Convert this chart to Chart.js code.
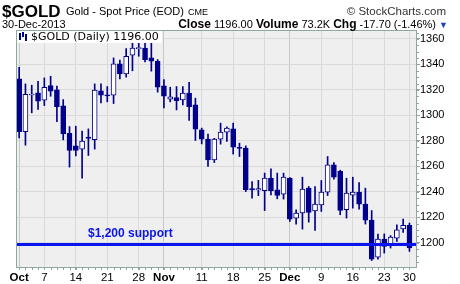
<!DOCTYPE html>
<html>
<head>
<meta charset="utf-8">
<script src="https://cdn.jsdelivr.net/npm/chart.js@4.4.1/dist/chart.umd.min.js"></script>
<style>
body { margin: 0; background: #fff; }
#wrap { position: relative; width: 460px; height: 284px; font-family: Arial, "Liberation Sans", sans-serif; }
#c { position: absolute; left: 0; top: 0; }
.t { position: absolute; white-space: nowrap; color: #000; line-height: 1; }
#leg { position: absolute; left: 17px; top: 31px; background: #fff; font-family: "DejaVu Sans", sans-serif; font-size: 11px; line-height: 12px; padding: 0 3px 0 2px; white-space: nowrap; }
#leg i { display: inline-block; width: 9px; height: 9px; margin-right: 3px; vertical-align: -1px; position: relative; }
#leg i b { position: absolute; width: 2px; background: #00008b; }
</style>
</head>
<body>
<div id="wrap">
<canvas id="c" width="460" height="284"></canvas>
<div class="t" style="left:2px;top:3px;font-size:17px;font-weight:bold">$GOLD</div>
<div class="t" style="left:66px;top:6px;font-size:11px">Gold - Spot Price (EOD)</div>
<div class="t" style="left:188px;top:8px;font-size:9px">CME</div>
<div class="t" style="right:14px;top:6px;font-size:11.5px;color:#333">&copy; StockCharts.com</div>
<div class="t" style="left:2px;top:19px;font-size:11px">30-Dec-2013</div>
<div class="t" style="right:12px;top:18px;font-size:11px"><b style="font-size:12px">Close</b> 1196.00 <b style="font-size:12px">Volume</b> 73.2K <b style="font-size:12px">Chg</b> -17.70 (-1.46%) <span style="color:#1a3cd0;font-size:9px">&#9660;</span></div>
<div id="leg"><i><b style="left:0;top:1px;height:7px"></b><b style="left:3px;top:0;height:5px"></b><b style="left:6px;top:2px;height:7px"></b></i>$GOLD (Daily) 1196.00</div>
</div>
<script>
// OHLC, Oct 1 - Dec 30 2013 (trading days)
const opens = [1328.6, 1287.3, 1316.0, 1317.6, 1311.9, 1323.4, 1320.0, 1307.5, 1286.0, 1276.1,
  1273.5, 1283.0, 1281.0, 1319.2, 1316.0, 1315.8, 1340.4, 1332.5, 1347.2, 1352.4,
  1352.9, 1345.1, 1342.5, 1323.1, 1312.7, 1314.0, 1312.2, 1317.4, 1308.2, 1288.6,
  1281.3, 1265.1, 1281.3, 1286.8, 1289.4, 1275.0, 1274.3, 1242.5, 1241.5, 1241.0,
  1250.7, 1241.6, 1238.2, 1250.7, 1219.4, 1223.5, 1242.9, 1225.1, 1229.8, 1239.8,
  1261.2, 1256.0, 1225.9, 1237.4, 1239.8, 1230.4, 1217.8, 1188.8, 1202.9, 1198.4,
  1203.7, 1210.8, 1213.7];
const highs = [1337.8, 1324.7, 1323.7, 1326.8, 1329.4, 1330.7, 1323.0, 1312.4, 1291.2, 1291.5,
  1287.6, 1289.4, 1324.7, 1324.7, 1322.6, 1345.1, 1343.3, 1352.4, 1356.9, 1357.6,
  1358.2, 1357.6, 1343.8, 1328.1, 1322.1, 1322.6, 1322.6, 1326.0, 1313.5, 1290.0,
  1285.3, 1282.0, 1293.9, 1291.0, 1293.9, 1278.2, 1276.1, 1248.0, 1249.0, 1254.7,
  1258.0, 1254.7, 1254.7, 1251.2, 1225.9, 1251.5, 1244.2, 1244.2, 1248.9, 1267.7,
  1263.0, 1257.0, 1250.7, 1251.5, 1247.3, 1242.9, 1225.3, 1206.8, 1207.0, 1205.7,
  1214.1, 1218.6, 1215.5];
const lows = [1282.4, 1276.6, 1302.0, 1304.6, 1307.7, 1315.0, 1295.0, 1280.8, 1259.4, 1268.2,
  1250.7, 1268.5, 1273.5, 1309.8, 1310.6, 1309.3, 1328.6, 1330.0, 1335.0, 1346.4,
  1342.0, 1334.7, 1318.2, 1305.9, 1310.6, 1304.3, 1308.2, 1296.0, 1280.3, 1277.6,
  1259.9, 1263.0, 1277.4, 1279.5, 1269.6, 1267.7, 1240.2, 1235.0, 1237.0, 1225.3,
  1237.6, 1234.5, 1234.3, 1216.7, 1214.7, 1210.7, 1216.2, 1209.7, 1224.6, 1237.1,
  1250.0, 1222.0, 1219.4, 1227.2, 1226.4, 1214.7, 1186.1, 1187.2, 1191.9, 1195.9,
  1201.0, 1208.1, 1193.2];
const closes = [1287.3, 1316.6, 1316.8, 1311.1, 1322.1, 1319.0, 1306.9, 1285.5, 1272.4, 1272.4,
  1279.8, 1282.0, 1319.8, 1315.8, 1315.3, 1340.4, 1332.5, 1346.4, 1352.9, 1353.2,
  1343.8, 1342.5, 1322.1, 1315.1, 1314.5, 1311.6, 1317.4, 1306.9, 1289.2, 1281.3,
  1265.1, 1281.3, 1286.8, 1290.0, 1275.0, 1274.0, 1241.6, 1241.5, 1242.5, 1250.7,
  1241.0, 1237.1, 1251.5, 1218.6, 1223.3, 1242.1, 1223.8, 1230.4, 1239.8, 1261.2,
  1251.5, 1225.4, 1239.0, 1239.8, 1230.4, 1217.8, 1187.2, 1202.9, 1197.1, 1204.5,
  1210.2, 1213.7, 1196.0];

// x axis: trading-day index of each labelled tick
const tickIdx = [0, 4, 9, 14, 19, 23, 29, 34, 39, 43, 48, 53, 58, 62];
const tickText = ['Oct', '7', '14', '21', '28', 'Nov', '11', '18', '25', 'Dec', '9', '16', '23', '30'];
const yTicks = [1200, 1220, 1240, 1260, 1280, 1300, 1320, 1340, 1360];
const supportLevel = 1199;
const supportText = '$1,200 support';

const navy = '#00008b';
const font = 'Arial, "Liberation Sans", sans-serif';
const isMonth = i => isNaN(Number(tickText[i]));

const wickData = highs.map((h, i) => ({ x: i, y: [lows[i], h] }));
const bodyData = opens.map((o, i) => ({ x: i, y: [o, closes[i]] }));
const bodyFill = opens.map((o, i) => closes[i] >= o ? '#ffffff' : navy);

// plot background, frame, minor ticks, support line
const extras = {
    id: 'extras',
    beforeDraw(chart) {
        const { ctx, chartArea: a } = chart;
        ctx.save();
        ctx.fillStyle = '#efefef';
        ctx.fillRect(a.left, a.top, a.right - a.left, a.bottom - a.top);
        ctx.restore();
    },
    afterDatasetsDraw(chart) {
        const { ctx, chartArea: a, scales } = chart;
        const y = Math.round(scales.y.getPixelForValue(supportLevel));
        ctx.save();
        ctx.fillStyle = '#0a14f0';
        ctx.fillRect(a.left, y - 1, a.right - a.left, 3);
        ctx.font = 'bold 12px ' + font;
        ctx.textBaseline = 'alphabetic';
        ctx.fillText(supportText, a.left + 72, y - 7);
        ctx.restore();
    },
    afterDraw(chart) {
        const { ctx, chartArea: a, scales } = chart;
        ctx.save();
        ctx.strokeStyle = '#8fa89e';
        ctx.lineWidth = 1;
        ctx.strokeRect(a.left + 0.5, a.top + 0.5, a.right - a.left - 1, a.bottom - a.top);
        ctx.fillStyle = '#8fa89e';
        for (let i = 0; i < opens.length; i++) {
            const x = Math.round(scales.x.getPixelForValue(i));
            ctx.fillRect(x, a.bottom + 1, 1, 2);
        }
        for (let v = 1185; v <= 1365; v += 5) {
            const y = Math.round(scales.y.getPixelForValue(v));
            ctx.fillRect(a.right, y, 2, 1);
        }
        ctx.restore();
    }
};

new Chart(document.getElementById('c').getContext('2d'), {
    type: 'bar',
    data: {
        datasets: [
            { data: wickData, backgroundColor: navy, barThickness: 1, grouped: false, order: 2 },
            { data: bodyData, backgroundColor: bodyFill, borderColor: navy, borderWidth: 1,
              borderSkipped: false, barThickness: 5, grouped: false, order: 1, minBarLength: 1 }
        ]
    },
    options: {
        responsive: false,
        animation: false,
        layout: { padding: { left: 16, top: 30, right: 0, bottom: 0 } },
        plugins: { legend: { display: false }, tooltip: { enabled: false } },
        scales: {
            x: {
                type: 'linear',
                offset: false,
                min: -0.5,
                max: 63.2,
                afterBuildTicks: s => { s.ticks = tickIdx.map(v => ({ value: v })); },
                afterFit: s => { s.height = 17; },
                ticks: {
                    autoSkip: false,
                    maxRotation: 0,
                    padding: 1,
                    color: '#000',
                    callback: (v, i) => tickText[i],
                    font: c => ({ family: font, size: 11.5, weight: isMonth(c.index) ? 'bold' : 'normal' })
                },
                grid: {
                    offset: false,
                    color: c => (c.tick && isMonth(tickIdx.indexOf(c.tick.value))) ? '#c6c6c6' : '#dadada',
                    tickLength: 3,
                    tickColor: '#8fa89e'
                },
                border: { display: false }
            },
            y: {
                position: 'right',
                min: 1181,
                max: 1367,
                afterBuildTicks: s => { s.ticks = yTicks.map(v => ({ value: v })); },
                afterFit: s => { s.width = 43; },
                ticks: { color: '#000', padding: 0, font: { family: font, size: 11 }, callback: v => String(v) },
                grid: { color: '#dadada', tickLength: 3, tickColor: '#8fa89e' },
                border: { display: false }
            }
        }
    },
    plugins: [extras]
});
</script>
</body>
</html>
